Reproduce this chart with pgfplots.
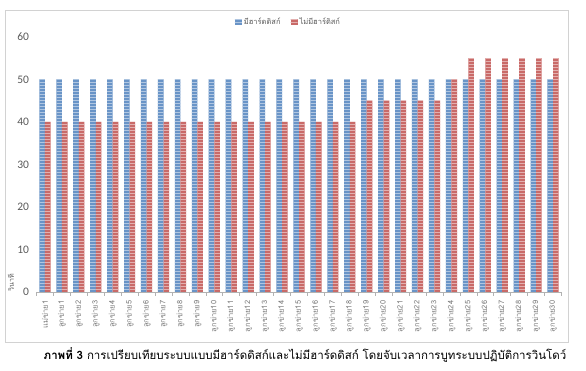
\documentclass[border=0pt]{standalone}
\usepackage{pgfplots}
\pgfplotsset{compat=1.18}
\usepackage{fontspec}
\setmainfont{Carlito}
\newfontfamily\thaifont[Script=Thai]{Loma}
\usetikzlibrary{patterns}
\definecolor{cblue}{HTML}{4F81BD}
\definecolor{cred}{HTML}{C0504D}
\definecolor{tgray}{HTML}{595959}
\pgfplotstableread{
x hdd nohdd
0 50 40
1 50 40
2 50 40
3 50 40
4 50 40
5 50 40
6 50 40
7 50 40
8 50 40
9 50 40
10 50 40
11 50 40
12 50 40
13 50 40
14 50 40
15 50 40
16 50 40
17 50 40
18 50 40
19 50 45
20 50 45
21 50 45
22 50 45
23 50 45
24 50 50
25 50 55
26 50 55
27 50 55
28 50 55
29 50 55
30 50 55
}\datatable
\begin{document}
\begin{tikzpicture}[x=1pt,y=1pt]
\useasboundingbox (0,0) rectangle (586,371);
\draw[gray!35, line width=0.7pt] (5,29) rectangle (568,361);
\begin{axis}[
  at={(36.5pt,79pt)}, anchor=south west,
  width=525pt, height=255pt, scale only axis,
  ybar, bar width=5.6pt,
  xmin=-0.5, xmax=30.5, ymin=0, ymax=60,
  ytick={0,10,...,60},
  axis y line*=left,
  y axis line style={draw=none},
  major y tick style={draw=none},
  yticklabel style={font=\fontsize{11.5}{12}\selectfont, text=tgray, xshift=-4pt},
  /pgf/number format/assume math mode=true,
  axis x line*=bottom,
  x axis line style={gray!60, line width=0.6pt},
  xtick={0,...,30},
  xticklabels={แม่ข่าย1,ลูกข่าย1,ลูกข่าย2,ลูกข่าย3,ลูกข่าย4,ลูกข่าย5,ลูกข่าย6,ลูกข่าย7,ลูกข่าย8,ลูกข่าย9,ลูกข่าย10,ลูกข่าย11,ลูกข่าย12,ลูกข่าย13,ลูกข่าย14,ลูกข่าย15,ลูกข่าย16,ลูกข่าย17,ลูกข่าย18,ลูกข่าย19,ลูกข่าย20,ลูกข่าย21,ลูกข่าย22,ลูกข่าย23,ลูกข่าย24,ลูกข่าย25,ลูกข่าย26,ลูกข่าย27,ลูกข่าย28,ลูกข่าย29,ลูกข่าย30},
  xticklabel style={rotate=90, anchor=east, font=\thaifont\fontsize{7.5}{8}\selectfont, text=tgray!80, xshift=-1pt},
  major x tick style={draw=none},
  extra x ticks={-0.5,0.5,...,30.5},
  extra x tick labels={},
  extra x tick style={major tick length=4pt, tick align=outside, major x tick style={draw=gray!60, line width=0.6pt}},
  legend style={at={(0.48,1.025)}, anchor=south, draw=none, fill=none,
    legend columns=2, font=\thaifont\fontsize{7.5}{8}\selectfont, text=tgray,
    /tikz/every even column/.append style={column sep=8pt}},
  legend image code/.code={\fill[#1] (0pt,-2.5pt) rectangle (7pt,3.5pt);},
  clip=false,
]
\addplot[draw=none, fill=cblue!85, postaction={pattern=horizontal lines, pattern color=white!55!cblue}, bar shift=-2.8pt] table[x=x,y=hdd]{\datatable};
\addplot[draw=none, fill=cred!85, postaction={pattern=horizontal lines, pattern color=white!55!cred}, bar shift=2.8pt] table[x=x,y=nohdd]{\datatable};
\legend{มีฮาร์ดดิสก์,ไม่มีฮาร์ดิสก์}
\end{axis}
\node[rotate=90, font=\thaifont\fontsize{7}{7}\selectfont, text=tgray] at (11,88) {วินาที};
\node[font=\thaifont\fontsize{11.5}{13}\selectfont] at (305,16) {\textbf{ภาพที่ 3} การเปรียบเทียบระบบแบบมีฮาร์ดดิสก์และไม่มีฮาร์ดดิสก์ โดยจับเวลาการบูทระบบปฏิบัติการวินโดว์};
\end{tikzpicture}
\end{document}
